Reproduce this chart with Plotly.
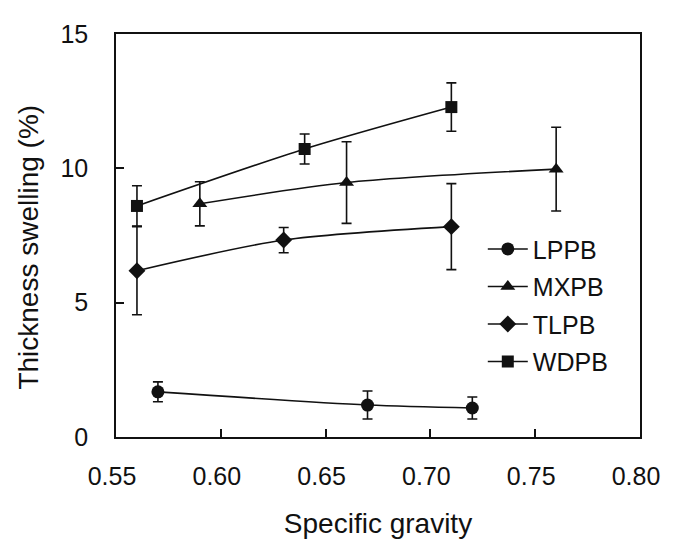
import plotly.graph_objects as go

# Data
lppb_x = [0.57, 0.67, 0.72]
lppb_y = [1.68, 1.19, 1.08]
lppb_err = [0.37, 0.52, 0.41]

mxpb_x = [0.59, 0.66, 0.76]
mxpb_y = [8.68, 9.47, 9.97]
mxpb_err = [0.82, 1.52, 1.56]

tlpb_x = [0.56, 0.63, 0.71]
tlpb_y = [6.19, 7.33, 7.83]
tlpb_err = [1.64, 0.47, 1.60]

wdpb_x = [0.56, 0.64, 0.71]
wdpb_y = [8.60, 10.72, 12.28]
wdpb_err = [0.75, 0.56, 0.90]

x_ticks = [0.55, 0.60, 0.65, 0.70, 0.75, 0.80]
x_tick_labels = ["0.55", "0.60", "0.65", "0.70", "0.75", "0.80"]
y_ticks = [0, 5, 10, 15]

FONT = "Liberation Sans, Arial, sans-serif"
INK = "#111111"

series = [
    ("LPPB", lppb_x, lppb_y, lppb_err, "circle", 13),
    ("MXPB", mxpb_x, mxpb_y, mxpb_err, "triangle-up", 13),
    ("TLPB", tlpb_x, tlpb_y, tlpb_err, "diamond", 13),
    ("WDPB", wdpb_x, wdpb_y, wdpb_err, "square", 12),
]

fig = go.Figure()
for name, xs, ys, es, sym, size in series:
    fig.add_trace(go.Scatter(
        x=xs, y=ys, name=name, legendgroup=name,
        mode="lines+markers",
        line=dict(color=INK, width=1.6, shape="spline", smoothing=0.8),
        marker=dict(symbol=sym, size=size, color=INK),
        error_y=dict(type="data", array=es, visible=True,
                     color=INK, thickness=1.6, width=5),
    ))

fig.update_layout(
    width=674, height=542,
    margin=dict(l=108, r=42, t=13, b=113),
    paper_bgcolor="white", plot_bgcolor="white",
    font=dict(family=FONT, size=25, color=INK),
    showlegend=True,
    legend=dict(x=0.700, y=0.327, xanchor="left", yanchor="middle",
                bgcolor="rgba(0,0,0,0)", tracegroupgap=2,
                font=dict(size=25), itemwidth=40),
    xaxis=dict(range=[0.55, 0.80], tickvals=x_ticks, ticktext=x_tick_labels,
               ticks="inside", ticklen=8, tickwidth=1.5, tickcolor=INK,
               showline=True, linecolor=INK, linewidth=1.6, mirror=True,
               showgrid=False, zeroline=False, ticklabelstandoff=16,
               ticklabelshift=-4, ticklabeloverflow="allow",
               title=dict(text="Specific gravity", standoff=25,
                          font=dict(size=28))),
    yaxis=dict(range=[0, 15], tickvals=y_ticks,
               ticks="inside", ticklen=8, tickwidth=1.5, tickcolor=INK,
               showline=True, linecolor=INK, linewidth=1.6, mirror=True,
               showgrid=False, zeroline=False, ticklabelstandoff=21,
               ticklabeloverflow="allow"),
    annotations=[dict(
        text="Thickness swelling (%)", textangle=-90,
        xref="paper", yref="paper", x=-0.166, y=0.47,
        xanchor="center", yanchor="middle", showarrow=False,
        font=dict(size=28, family=FONT, color=INK),
    )],
)

fig.write_html("out.html")
